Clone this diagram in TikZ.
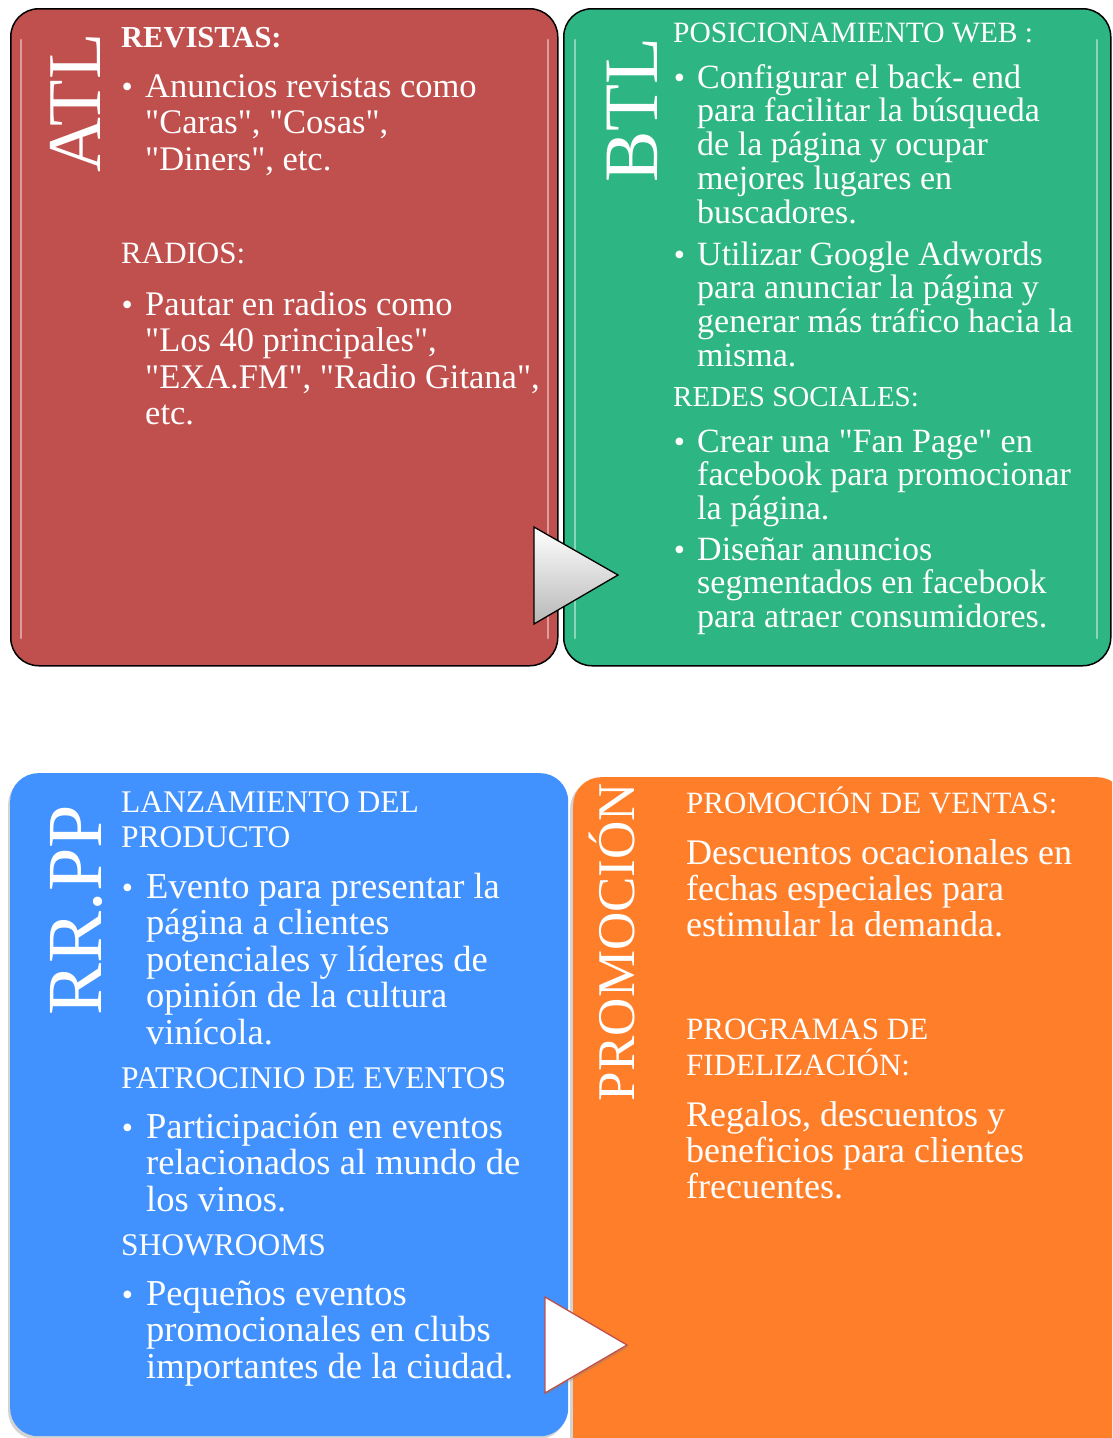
\documentclass[tikz,border=0pt]{standalone}
\usepackage{fontspec}
\setmainfont{Liberation Serif}[Ligatures=TeXOff]
\usetikzlibrary{shadows}

\definecolor{atlred}{HTML}{C0504D}
\definecolor{btlgreen}{HTML}{2DB583}
\definecolor{rppblue}{HTML}{4192FE}
\definecolor{promoorange}{HTML}{FE7E2A}

\newcommand{\bul}{\makebox[0pt][r]{{\fontsize{32}{32}\selectfont\textbullet}\hspace{0.36em}}}
\newcommand{\block}[1]{\parbox[t]{480pt}{\lineskiplimit=-100pt\raggedright #1}}

\tikzset{
  panel/.style={rounded corners=28pt, anchor=north west, inner sep=0pt},
  gloss/.style={white, opacity=0.45, line width=2.5pt, line cap=round},
  side/.style={rotate=90, anchor=base, inner sep=0pt, text=white},
  txt/.style={anchor=base west, inner sep=0pt, text=white},
  fs/.style 2 args={font=\fontsize{#1}{#2}\selectfont},
  tri/.style={line width=1.3pt, line join=miter}
}

\begin{document}
\begin{tikzpicture}[x=1pt, y=-1pt]
        \useasboundingbox (0,0) rectangle (1112,1438);
        \clip (0,0) rectangle (1112,1438);

        % ATL
        \node[panel, fill=atlred, draw=black, line width=1.5pt,
              minimum width=547pt, minimum height=657pt] (atl) at (10,8) {};
        \draw[gloss] (21,40) -- (21,638);
        \draw[gloss] (548,40) -- (548,638);
        \node[side, fs={76}{76}] (atl-t) at (100,103) {ATL};
        \node[txt, fs={30.5}{36}] (atl-h1) at (121,47) {\textbf{REVISTAS:}};
        \node[txt, fs={34.5}{36.5}] (atl-b1) at (145,97)
             {\block{\bul Anuncios revistas como\\"Caras", "Cosas",\\"Diners", etc.}};
        \node[txt, fs={31}{36}] (atl-h2) at (121,263) {RADIOS:};
        \node[txt, fs={34.5}{36.5}] (atl-b2) at (145,315)
             {\block{\bul Pautar en radios como\\"Los 40 principales",\\"EXA.FM", "Radio Gitana",\\etc.}};

        % BTL
        \node[panel, fill=btlgreen, draw=black, line width=1.5pt,
              minimum width=547pt, minimum height=657pt] (btl) at (563,8) {};
        \draw[gloss] (575,40) -- (575,638);
        \draw[gloss] (1097,40) -- (1097,638);
        \node[side, fs={77}{77}] (btl-t) at (657,110) {BTL};
        \node[txt, fs={29.5}{34}] (btl-h1) at (673,42) {POSICIONAMIENTO WEB :};
        \node[txt, fs={34}{33.8}] (btl-b1) at (697,88)
             {\block{\bul Configurar el back- end\\para facilitar la búsqueda\\de la página y ocupar\\mejores lugares en\\buscadores.}};
        \node[txt, fs={34}{33.8}] (btl-b2) at (697,265)
             {\block{\bul Utilizar Google Adwords\\para anunciar la página y\\generar más tráfico hacia la\\misma.}};
        \node[txt, fs={29}{34}] (btl-h2) at (673,406) {REDES SOCIALES:};
        \node[txt, fs={34}{33.8}] (btl-b3) at (697,452)
             {\block{\bul Crear una "Fan Page" en\\facebook para promocionar\\la página.}};
        \node[txt, fs={34}{33.8}] (btl-b4) at (697,560)
             {\block{\bul Diseñar anuncios\\segmentados en facebook\\para atraer consumidores.}};

        % flecha ATL -> BTL
        \coordinate (t1a) at (534,527);
        \coordinate (t1b) at (534,624);
        \coordinate (t1c) at (618,575);
        \draw[tri, draw=black, top color=white, bottom color=black!28] (t1a) -- (t1c) -- (t1b) -- cycle;

        % RR.PP
        \node[panel, fill=rppblue, minimum width=558pt, minimum height=663pt,
              drop shadow={shadow xshift=-2pt, shadow yshift=-3pt, opacity=0.35}] (rpp) at (10,773) {};
        \node[side, fs={78}{78}] (rpp-t) at (101,910) {RR.PP};
        \node[txt, fs={31.5}{35}] (rpp-h1) at (121,812) {\block{LANZAMIENTO DEL\\PRODUCTO}};
        \node[txt, fs={36.5}{36.5}] (rpp-b1) at (146,898)
             {\block{\bul Evento para presentar la\\página a clientes\\potenciales y líderes de\\opinión de la cultura\\vinícola.}};
        \node[txt, fs={31.5}{36}] (rpp-h2) at (121,1088) {PATROCINIO DE EVENTOS};
        \node[txt, fs={36.5}{36.5}] (rpp-b2) at (146,1138)
             {\block{\bul Participación en eventos\\relacionados al mundo de\\los vinos.}};
        \node[txt, fs={31.5}{36}] (rpp-h3) at (121,1255) {SHOWROOMS};
        \node[txt, fs={36.5}{36.5}] (rpp-b3) at (146,1305)
             {\block{\bul Pequeños eventos\\promocionales en clubs\\importantes de la ciudad.}};

        % PROMOCIÓN
        \node[panel, fill=promoorange, minimum width=552pt, minimum height=700pt,
              drop shadow={shadow xshift=-3pt, shadow yshift=-3pt, opacity=0.35}] (pro) at (573,777) {};
        \node[side, fs={53}{53}] (pro-t) at (634,942) {PROMOCIÓN};
        \node[txt, fs={31}{36}] (pro-h1) at (686,813) {PROMOCIÓN DE VENTAS:};
        \node[txt, fs={36}{36}] (pro-b1) at (686,864)
             {\block{Descuentos ocacionales en\\fechas especiales para\\estimular la demanda.}};
        \node[txt, fs={31}{36}] (pro-h2) at (686,1039) {\block{PROGRAMAS DE\\FIDELIZACIÓN:}};
        \node[txt, fs={36}{36}] (pro-b2) at (686,1126)
             {\block{Regalos, descuentos y\\beneficios para clientes\\frecuentes.}};

        % flecha RR.PP -> PROMOCIÓN
        \coordinate (t2a) at (545,1297);
        \coordinate (t2b) at (545,1393);
        \coordinate (t2c) at (627,1345);
        \draw[tri, draw=atlred, fill=white,
              drop shadow={shadow xshift=2pt, shadow yshift=-2pt, opacity=0.3}] (t2a) -- (t2c) -- (t2b) -- cycle;
\end{tikzpicture}
\end{document}
